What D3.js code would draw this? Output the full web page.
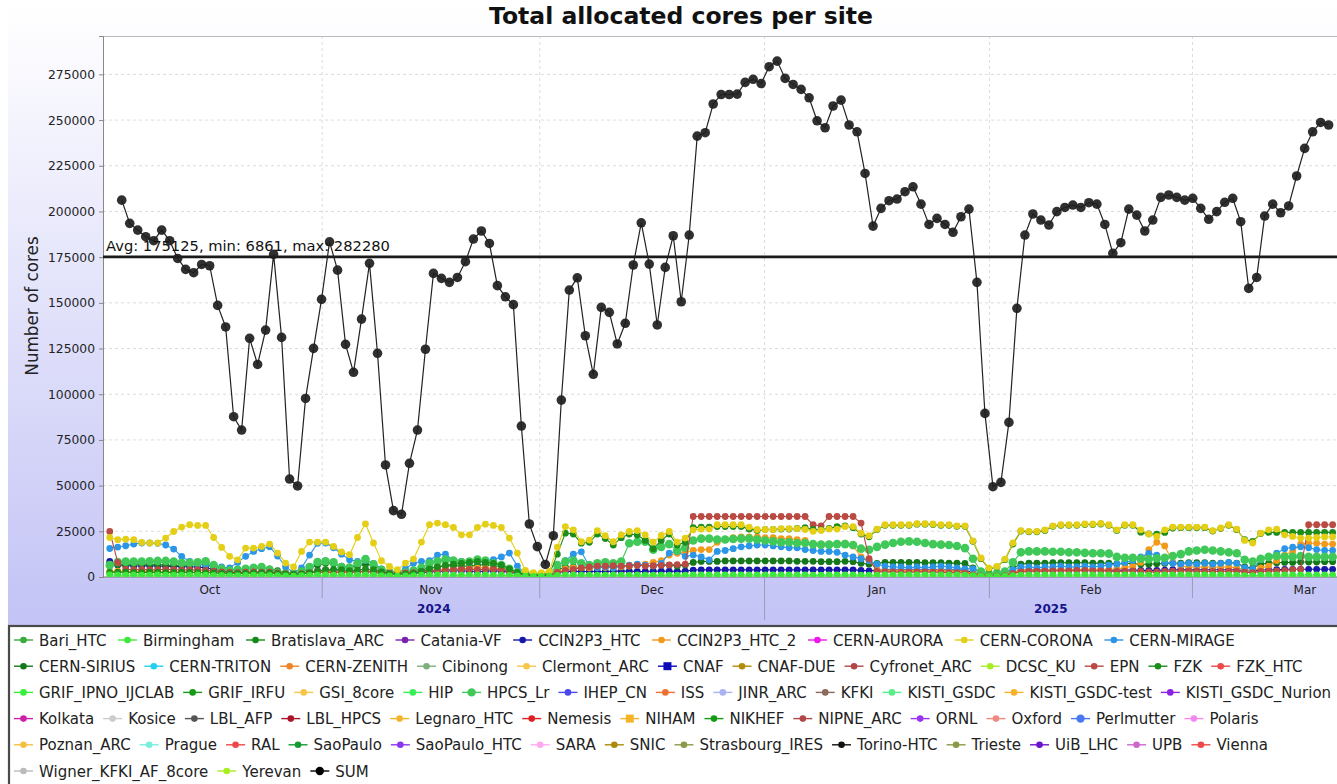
<!DOCTYPE html>
<html>
<head>
<meta charset="utf-8">
<script src="https://cdn.jsdelivr.net/npm/d3@7"></script>
<style>
  html, body { margin: 0; padding: 0; background: #fff; }
  svg { display: block; font-family: "DejaVu Sans", "Liberation Sans", sans-serif; }
</style>
</head>
<body>
<svg id="chart" width="1337" height="784"></svg>
<script>
// all values are in thousands of cores

// SUM, one sample every ~26.5h starting 4 Oct 2024
const sumK = [
  206.2, 193.5, 189.8, 186.2, 184.0, 189.8, 184.0, 174.3, 168.3, 166.5,
  171.0, 170.3, 148.6, 136.8, 87.7, 80.4, 130.6, 116.3, 135.1, 176.5,
  131.1, 53.6, 49.8, 97.7, 125.1, 151.9, 183.4, 167.9, 127.3, 112.0,
  141.1, 171.6, 122.4, 61.3, 36.3, 34.3, 62.2, 80.4, 124.6, 166.1,
  163.4, 161.2, 163.9, 172.5, 184.9, 189.3, 182.5, 159.4, 153.3, 149.0,
  82.6, 29.0, 16.6, 6.861, 22.6, 96.8, 157.0, 163.7, 132.0, 110.9,
  147.5, 144.8, 127.5, 138.8, 170.7, 193.8, 171.2, 137.9, 169.4, 186.7,
  150.6, 187.1, 241.2, 243.1, 258.8, 264.0, 264.0, 264.2, 270.6, 272.3,
  270.0, 279.2, 282.28, 272.8, 269.5, 266.8, 262.2, 249.6, 245.8, 257.7,
  260.9, 247.3, 243.6, 220.8, 192.0, 201.7, 205.9, 206.8, 210.8, 213.5,
  204.0, 192.9, 196.2, 192.9, 188.6, 197.1, 201.3, 161.2, 89.5, 49.4,
  51.8, 84.6, 147.0, 187.1, 198.6, 195.3, 192.6, 199.9, 202.2, 203.5,
  202.2, 204.8, 204.0, 192.9, 177.1, 182.9, 201.3, 198.0, 189.3, 195.3,
  207.7, 209.0, 207.7, 206.2, 207.2, 201.7, 195.7, 199.9, 205.0, 207.2,
  194.4, 157.9, 163.9, 197.5, 204.0, 199.3, 203.0, 219.4, 234.5, 243.6,
  248.7, 247.3
];

// per site series (start 1.5 samples before SUM)
const ccin2p3HtcK = [
  8.6, 6.5, 6.2, 6.0, 6.0, 6.2, 6.0, 5.8, 5.8, 5.6,
  5.6, 5.5, 5.0, 4.2, 3.5, 2.8, 2.5, 2.5, 2.6, 2.6,
  2.4, 2.0, 1.6, 1.4, 1.8, 2.6, 3.5, 3.8, 3.6, 3.0,
  2.6, 2.8, 3.0, 2.6, 2.0, 1.6, 1.4, 1.6, 2.0, 2.4,
  2.8, 3.0, 3.2, 3.4, 3.4, 3.2, 3.0, 3.2, 3.4, 3.2,
  2.6, 1.8, 1.0, 0.8, 0.8, 1.0, 2.4, 3.0, 3.2, 3.0,
  3.0, 3.0, 3.0, 3.2, 3.2, 3.2, 3.0, 3.0, 3.2, 3.2,
  3.2, 3.0, 3.2, 3.8, 3.9, 3.9, 3.9, 3.9, 3.9, 3.9,
  3.9, 3.9, 3.9, 3.9, 3.9, 3.9, 3.9, 3.9, 3.9, 3.9,
  3.9, 3.9, 3.9, 3.9, 3.6, 3.4, 3.6, 3.8, 3.8, 3.8,
  3.8, 3.8, 3.8, 3.8, 3.8, 3.8, 3.8, 3.6, 2.5, 1.0,
  0.5, 0.6, 1.0, 2.5, 3.6, 3.8, 3.8, 3.8, 3.8, 3.8,
  3.8, 3.8, 3.8, 3.8, 3.8, 3.8, 3.6, 3.8, 3.8, 3.6,
  3.6, 3.6, 3.8, 4.0, 4.0, 4.0, 4.0, 4.0, 4.0, 4.0,
  4.0, 4.0, 3.5, 3.2, 3.8, 4.0, 4.0, 4.2, 4.2, 4.2,
  4.2, 4.2, 4.2, 4.2
];
const ccin2p3Htc2K = [
  3.0, 3.2, 3.0, 3.0, 3.1, 3.2, 3.0, 3.0, 2.8, 2.8,
  2.8, 2.6, 2.6, 2.4, 2.2, 2.0, 2.0, 2.2, 2.4, 2.4,
  2.2, 1.8, 1.4, 1.2, 1.6, 2.4, 3.0, 3.2, 3.0, 2.8,
  2.8, 3.0, 3.2, 3.0, 2.4, 1.8, 1.6, 2.0, 2.6, 3.2,
  3.6, 3.8, 4.0, 4.2, 4.5, 4.8, 5.0, 5.0, 4.8, 4.5,
  3.5, 2.0, 1.0, 0.8, 0.8, 1.0, 3.0, 4.5, 5.0, 5.0,
  5.0, 5.2, 5.2, 5.0, 5.5, 6.0, 6.5, 7.0, 8.0, 9.0,
  12.0, 13.0, 13.5, 14.5, 15.0, 15.0, 19.0, 20.5, 21.5, 22.0,
  22.0, 22.0, 21.5, 21.5, 21.0, 21.0, 20.5, 20.0, 18.0, 17.5,
  18.0, 18.0, 18.5, 17.0, 11.0, 9.0, 4.0, 3.5, 3.5, 3.5,
  3.5, 3.5, 3.5, 3.5, 3.5, 3.2, 3.2, 3.0, 2.0, 1.0,
  0.6, 0.6, 1.0, 2.5, 3.5, 3.8, 3.8, 3.8, 4.0, 4.0,
  4.0, 4.0, 4.2, 4.2, 4.0, 4.0, 4.5, 5.0, 6.0, 8.0,
  15.0, 19.0, 17.0, 8.0, 6.0, 5.5, 5.5, 5.5, 5.5, 5.5,
  5.5, 5.0, 4.0, 3.5, 5.0, 6.0, 9.0, 12.0, 14.0, 18.0,
  18.5, 18.5, 18.0, 18.0
];
const cernCoronaK = [
  21.6, 20.4, 20.7, 20.4, 18.9, 18.6, 18.6, 21.3, 24.9, 27.3,
  28.6, 28.2, 28.2, 21.6, 16.2, 11.3, 9.4, 15.8, 15.8, 16.7,
  18.0, 13.1, 7.6, 5.5, 14.0, 19.1, 19.1, 19.1, 16.7, 13.7,
  12.2, 21.6, 29.1, 18.6, 8.9, 5.8, 4.0, 7.6, 9.8, 19.1,
  28.6, 29.5, 28.6, 27.1, 23.1, 23.1, 27.1, 28.9, 28.2, 27.1,
  21.3, 13.1, 3.6, 2.4, 2.4, 3.0, 16.4, 27.6, 25.8, 19.3,
  20.2, 25.4, 22.6, 19.3, 23.1, 24.9, 25.4, 23.1, 19.1, 22.7,
  24.9, 19.1, 21.3, 25.8, 26.2, 26.2, 28.6, 28.6, 28.6, 28.6,
  27.3, 26.0, 26.0, 26.0, 26.5, 26.5, 26.5, 26.0, 25.0, 25.5,
  26.2, 26.2, 27.6, 27.6, 24.0, 22.6, 26.2, 28.6, 28.6, 28.6,
  28.6, 29.2, 29.2, 29.0, 28.6, 28.6, 28.0, 28.0, 19.8, 10.4,
  4.9, 5.8, 9.8, 18.6, 25.4, 25.0, 25.0, 25.8, 28.0, 28.6,
  28.6, 28.6, 29.0, 29.0, 29.3, 28.6, 25.8, 28.6, 28.6, 25.8,
  23.5, 22.2, 25.8, 27.3, 27.3, 27.3, 27.3, 27.3, 25.4, 26.8,
  28.6, 26.2, 20.0, 18.6, 24.0, 25.8, 26.2, 23.1, 22.2, 21.3,
  21.3, 21.6, 21.9, 21.9
];
const cernMirageK = [
  15.6, 16.4, 17.1, 18.0, 18.6, 18.6, 18.4, 17.5, 15.3, 11.3,
  8.5, 7.0, 6.8, 6.5, 5.5, 5.0, 8.0, 11.3, 14.0, 15.5,
  16.5, 11.5, 5.5, 2.5, 5.0, 12.0, 18.4, 18.6, 16.0, 12.5,
  9.5, 8.5, 9.0, 7.5, 4.5, 3.0, 2.5, 4.5, 7.5, 8.5,
  9.0, 12.0, 12.5, 9.0, 8.5, 8.0, 8.5, 9.0, 9.5, 11.0,
  13.1, 6.0, 2.0, 1.5, 1.5, 2.0, 6.0, 8.9, 12.5, 13.8,
  6.0, 5.0, 5.5, 5.0, 6.0, 6.5, 7.0, 6.5, 6.0, 7.5,
  13.1, 14.0, 11.3, 12.0, 11.0, 9.4, 14.0, 14.5, 15.5, 16.5,
  17.0, 17.5, 17.5, 17.0, 16.5, 16.0, 16.0, 15.0, 14.5, 14.0,
  14.0, 13.5, 12.0, 11.0, 10.0, 9.0, 7.0, 6.0, 5.5, 5.5,
  5.0, 5.5, 5.0, 5.5, 6.0, 5.5, 5.0, 4.5, 4.5, 3.0,
  2.0, 2.0, 3.0, 4.0, 5.5, 5.5, 5.0, 5.5, 5.5, 6.0,
  5.5, 5.5, 6.0, 5.5, 6.0, 6.5, 7.0, 8.0, 9.0, 11.0,
  12.9, 12.0, 8.0, 7.5, 7.0, 7.5, 7.0, 7.5, 7.0, 7.5,
  8.0, 7.5, 5.0, 4.5, 9.5, 11.0, 13.0, 15.5, 16.3, 16.5,
  16.0, 15.0, 14.5, 14.5
];
const cernSiriusK = [
  7.0, 6.8, 6.8, 7.0, 7.2, 7.0, 6.8, 6.6, 6.4, 6.5,
  6.6, 6.8, 6.5, 5.5, 4.5, 4.0, 4.2, 4.5, 4.8, 5.0,
  4.5, 3.5, 2.5, 2.2, 3.0, 4.5, 6.5, 7.5, 7.2, 6.0,
  5.5, 6.0, 7.0, 6.0, 4.0, 2.5, 2.2, 2.5, 3.0, 4.0,
  5.0, 5.5, 6.0, 6.2, 6.0, 5.8, 6.5, 6.8, 6.0, 5.5,
  4.0, 2.5, 1.5, 1.2, 1.2, 1.5, 4.0, 5.5, 5.5, 5.0,
  5.0, 5.5, 5.5, 5.5, 6.0, 6.0, 6.5, 6.5, 6.0, 6.5,
  6.5, 6.0, 6.5, 8.0, 8.5, 8.5, 8.5, 8.8, 8.8, 8.8,
  8.8, 8.8, 8.8, 8.8, 8.8, 8.8, 8.6, 8.6, 8.6, 8.4,
  8.4, 8.4, 8.6, 8.4, 7.5, 7.0, 7.5, 8.0, 8.0, 8.0,
  8.0, 8.0, 7.8, 7.8, 7.8, 7.6, 7.6, 7.4, 5.0, 2.0,
  1.0, 1.2, 2.0, 5.0, 7.0, 7.6, 7.6, 7.6, 7.8, 7.8,
  7.8, 7.8, 7.8, 7.6, 7.6, 7.6, 7.2, 7.4, 7.4, 7.0,
  7.0, 7.2, 7.4, 7.6, 7.6, 7.8, 7.8, 7.8, 7.6, 7.6,
  7.8, 7.6, 5.5, 5.0, 7.0, 7.6, 7.8, 8.0, 8.0, 8.2,
  8.2, 8.2, 8.4, 8.4
];
const epnK = [
  24.9, 8.0, 4.2, 4.0, 4.1, 3.9, 4.0, 4.2, 4.0, 3.8,
  3.9, 4.0, 3.6, 3.2, 2.8, 2.5, 2.4, 2.6, 2.8, 2.7,
  2.6, 2.2, 1.8, 1.6, 1.8, 2.4, 2.6, 2.5, 2.4, 2.6,
  2.8, 3.0, 3.2, 3.0, 2.6, 2.2, 2.0, 2.2, 2.4, 3.0,
  3.6, 3.8, 4.0, 4.2, 4.4, 4.2, 4.0, 4.2, 4.4, 4.0,
  3.2, 2.0, 1.0, 0.8, 0.8, 1.0, 2.5, 3.6, 4.2, 5.0,
  5.5, 6.0, 6.0, 6.2, 6.0, 6.2, 6.4, 6.0, 6.2, 6.4,
  6.6, 6.8, 7.0, 33.1, 33.1, 33.1, 33.1, 33.1, 33.1, 33.1,
  33.1, 33.1, 33.1, 33.1, 33.1, 33.1, 33.1, 33.1, 28.6, 28.0,
  33.1, 33.1, 33.1, 33.1, 29.5, 10.0, 3.0, 2.8, 2.8, 2.6,
  2.6, 2.8, 2.8, 2.6, 2.6, 2.4, 2.4, 2.2, 1.2, 0.6,
  0.4, 0.4, 0.8, 2.0, 2.8, 3.0, 3.2, 3.2, 3.4, 3.4,
  3.4, 3.6, 3.6, 3.4, 3.4, 3.2, 3.0, 3.2, 3.4, 3.0,
  2.8, 2.8, 3.0, 3.2, 3.4, 3.4, 3.2, 3.2, 3.0, 3.0,
  3.2, 3.2, 2.6, 2.4, 3.0, 3.2, 3.4, 3.6, 4.0, 4.2,
  28.6, 28.6, 28.6, 28.6
];
const fzkK = [
  2.5, 2.6, 2.6, 2.5, 2.4, 2.6, 2.5, 2.4, 2.5, 2.6,
  2.5, 2.4, 2.3, 2.2, 2.0, 1.8, 1.9, 2.0, 2.1, 2.2,
  2.1, 1.8, 1.5, 1.4, 1.6, 2.2, 3.0, 4.0, 4.2, 4.0,
  3.5, 3.8, 4.4, 4.0, 2.8, 1.8, 1.5, 1.6, 2.0, 3.0,
  4.5, 5.5, 6.5, 7.0, 7.5, 8.0, 8.5, 8.0, 7.5, 6.5,
  4.5, 2.5, 1.2, 1.0, 1.0, 1.2, 12.5, 24.0, 23.5, 18.5,
  19.0, 23.5, 21.0, 17.5, 21.5, 23.5, 23.0, 20.0, 15.5, 20.0,
  23.5, 17.5, 19.0, 27.0, 27.3, 27.3, 27.6, 27.6, 27.6, 27.6,
  26.2, 25.5, 26.0, 26.0, 26.2, 26.2, 26.6, 27.0, 26.0, 25.8,
  26.6, 27.6, 28.0, 27.0, 23.5, 22.0, 26.0, 28.3, 28.3, 28.3,
  28.3, 28.9, 28.9, 28.7, 28.3, 28.3, 27.7, 27.7, 19.5, 10.0,
  4.5, 5.5, 9.5, 18.0, 25.1, 24.7, 24.7, 25.5, 27.7, 28.3,
  28.3, 28.3, 28.7, 28.7, 29.0, 28.3, 25.5, 28.3, 28.3, 24.5,
  23.6, 23.5, 24.4, 26.8, 27.0, 27.0, 27.0, 27.0, 25.1, 26.5,
  28.3, 25.9, 20.5, 19.5, 23.8, 24.4, 24.4, 24.4, 24.4, 24.4,
  24.4, 24.4, 24.4, 24.4
];
const hpcsLrK = [
  6.5, 8.2, 8.4, 8.4, 8.5, 8.6, 8.8, 8.8, 8.4, 7.8,
  7.8, 8.0, 8.6, 6.5, 4.5, 3.5, 4.0, 4.5, 5.0, 5.5,
  4.0, 2.5, 1.8, 1.5, 3.0, 5.5, 8.2, 8.6, 8.0, 5.5,
  5.0, 7.5, 9.8, 7.0, 4.0, 2.5, 2.0, 2.5, 3.5, 5.0,
  7.5, 8.6, 9.5, 9.0, 8.0, 8.5, 9.5, 9.0, 7.5, 6.5,
  4.5, 2.5, 1.5, 1.2, 1.2, 1.5, 6.5, 8.5, 9.0, 7.5,
  6.5, 7.5, 8.0, 7.5, 8.5, 18.5, 19.3, 19.3, 15.0, 16.5,
  18.0, 14.5, 16.0, 20.0, 21.0, 21.0, 20.5, 20.5, 20.8, 21.0,
  21.0, 20.5, 20.0, 19.5, 19.0, 19.0, 18.6, 18.6, 18.0, 17.7,
  17.7, 18.0, 18.0, 17.5, 15.5, 14.9, 16.5, 17.7, 18.6, 19.3,
  19.5, 19.3, 18.6, 18.0, 17.7, 17.5, 17.0, 15.8, 10.0, 3.0,
  1.5, 2.0, 3.0, 8.0, 13.5, 14.0, 14.0, 14.0, 13.8, 13.8,
  13.5, 13.5, 13.2, 13.0, 13.0, 12.8, 11.0, 10.5, 10.5, 10.0,
  9.8, 10.2, 10.5, 11.5, 12.5, 14.0, 14.5, 14.9, 14.5, 14.0,
  13.5, 13.0, 9.4, 8.5, 10.0, 11.0, 11.5, 11.0, 11.0, 11.5,
  11.0, 11.0, 11.0, 11.0
];
const birminghamK = [
  1.2, 1.0, 1.0, 1.1, 1.0, 1.0, 1.1, 1.0, 1.0, 1.0,
  1.0, 1.1, 1.0, 0.9, 0.9, 0.8, 0.8, 0.9, 1.0, 1.0,
  0.9, 0.8, 0.6, 0.5, 0.7, 0.9, 1.0, 1.1, 1.0, 1.0,
  1.0, 1.0, 1.1, 1.0, 0.8, 0.6, 0.5, 0.6, 0.8, 1.0,
  1.0, 1.1, 1.1, 1.0, 1.0, 1.0, 1.1, 1.1, 1.0, 1.0,
  0.9, 0.6, 0.4, 0.3, 0.3, 0.4, 0.9, 1.0, 1.1, 1.0,
  1.0, 1.0, 1.0, 1.1, 1.0, 1.0, 1.1, 1.0, 1.0, 1.0,
  1.0, 1.0, 1.0, 1.1, 1.1, 1.1, 1.1, 1.1, 1.1, 1.1,
  1.1, 1.1, 1.1, 1.1, 1.1, 1.1, 1.1, 1.1, 1.0, 1.0,
  1.1, 1.1, 1.1, 1.1, 1.0, 1.0, 1.0, 1.1, 1.1, 1.1,
  1.1, 1.1, 1.1, 1.1, 1.1, 1.1, 1.1, 1.0, 0.8, 0.5,
  0.3, 0.3, 0.5, 0.8, 1.0, 1.1, 1.1, 1.1, 1.1, 1.1,
  1.1, 1.1, 1.1, 1.1, 1.1, 1.1, 1.0, 1.1, 1.1, 1.0,
  1.0, 1.0, 1.1, 1.1, 1.1, 1.1, 1.1, 1.1, 1.1, 1.1,
  1.1, 1.0, 0.8, 0.8, 1.0, 1.1, 1.1, 1.1, 1.1, 1.1,
  1.1, 1.1, 1.1, 1.1
];

const avgCores = 175125, minCores = 6861, maxCores = 282280;
const yTicks = [0, 25000, 50000, 75000, 100000, 125000, 150000, 175000, 200000, 225000, 250000, 275000];

// legend, row by row as in the picture
const legendRows = [
  ['Bari_HTC', 'Birmingham', 'Bratislava_ARC', 'Catania-VF', 'CCIN2P3_HTC', 'CCIN2P3_HTC_2', 'CERN-AURORA', 'CERN-CORONA', 'CERN-MIRAGE'],
  ['CERN-SIRIUS', 'CERN-TRITON', 'CERN-ZENITH', 'Cibinong', 'Clermont_ARC', 'CNAF', 'CNAF-DUE', 'Cyfronet_ARC', 'DCSC_KU', 'EPN', 'FZK', 'FZK_HTC'],
  ['GRIF_IPNO_IJCLAB', 'GRIF_IRFU', 'GSI_8core', 'HIP', 'HPCS_Lr', 'IHEP_CN', 'ISS', 'JINR_ARC', 'KFKI', 'KISTI_GSDC', 'KISTI_GSDC-test', 'KISTI_GSDC_Nurion'],
  ['Kolkata', 'Kosice', 'LBL_AFP', 'LBL_HPCS', 'Legnaro_HTC', 'Nemesis', 'NIHAM', 'NIKHEF', 'NIPNE_ARC', 'ORNL', 'Oxford', 'Perlmutter', 'Polaris'],
  ['Poznan_ARC', 'Prague', 'RAL', 'SaoPaulo', 'SaoPaulo_HTC', 'SARA', 'SNIC', 'Strasbourg_IRES', 'Torino-HTC', 'Trieste', 'UiB_LHC', 'UPB', 'Vienna'],
  ['Wigner_KFKI_AF_8core', 'Yerevan', 'SUM']
];
const legendGap = [11.6, 9, 9, 9, 9, 9];
const siteColors = {
  'Bari_HTC': '#3aaa3a', 'Birmingham': '#3ee83a', 'Bratislava_ARC': '#138a13', 'Catania-VF': '#7a22b0',
  'CCIN2P3_HTC': '#1616a8', 'CCIN2P3_HTC_2': '#f29a1c', 'CERN-AURORA': '#ee18e8', 'CERN-CORONA': '#e4cf16',
  'CERN-MIRAGE': '#2b96e8', 'CERN-SIRIUS': '#14781a', 'CERN-TRITON': '#22d0ee', 'CERN-ZENITH': '#f08426',
  'Cibinong': '#7caf7c', 'Clermont_ARC': '#f5c648', 'CNAF': '#0a0abb', 'CNAF-DUE': '#b48a0a',
  'Cyfronet_ARC': '#b04848', 'DCSC_KU': '#a8ec26', 'EPN': '#b94a44', 'FZK': '#1c8c1c', 'FZK_HTC': '#ee4848',
  'GRIF_IPNO_IJCLAB': '#38ee38', 'GRIF_IRFU': '#149a14', 'GSI_8core': '#f5c648', 'HIP': '#38ee58',
  'HPCS_Lr': '#40c858', 'IHEP_CN': '#4848ee', 'ISS': '#f07030', 'JINR_ARC': '#aab2f2', 'KFKI': '#8a6a5a',
  'KISTI_GSDC': '#58ee88', 'KISTI_GSDC-test': '#f5b428', 'KISTI_GSDC_Nurion': '#8a22e0',
  'Kolkata': '#cc22aa', 'Kosice': '#cccccc', 'LBL_AFP': '#555555', 'LBL_HPCS': '#aa1428',
  'Legnaro_HTC': '#f5b428', 'Nemesis': '#dd2020', 'NIHAM': '#f5b428', 'NIKHEF': '#149a14',
  'NIPNE_ARC': '#b04848', 'ORNL': '#9a34ee', 'Oxford': '#f08a80', 'Perlmutter': '#4a78ee', 'Polaris': '#f48af0',
  'Poznan_ARC': '#f5c040', 'Prague': '#7aeedc', 'RAL': '#ee4848', 'SaoPaulo': '#149a34',
  'SaoPaulo_HTC': '#8a36ee', 'SARA': '#ffaaf0', 'SNIC': '#aa8a0a', 'Strasbourg_IRES': '#8a9a48',
  'Torino-HTC': '#111111', 'Trieste': '#8a9a48', 'UiB_LHC': '#6a14cc', 'UPB': '#cc66cc', 'Vienna': '#ee4848',
  'Wigner_KFKI_AF_8core': '#bbbbbb', 'Yerevan': '#aaee22', 'SUM': '#000000'
};
const squareMarkers = ['CNAF', 'NIHAM'];
const bigMarkers = ['HPCS_Lr', 'Perlmutter', 'SUM'];

// series drawn in the plot (draw order)
const plotted = [
  ['CCIN2P3_HTC', ccin2p3HtcK], ['CERN-SIRIUS', cernSiriusK], ['CCIN2P3_HTC_2', ccin2p3Htc2K],
  ['CERN-MIRAGE', cernMirageK], ['HPCS_Lr', hpcsLrK], ['EPN', epnK], ['FZK', fzkK],
  ['CERN-CORONA', cernCoronaK], ['Birmingham', birminghamK]
];

const HOUR = 3600 * 1000;
const STEP = 26.45 * HOUR;
const sumStart = Date.UTC(2024, 9, 4, 8, 40);
const siteStart = sumStart - 1.5 * STEP;

const W = 1337, H = 784;
const plot = { left: 103, top: 36, right: 1337, bottom: 577 };
const FONT = '"DejaVu Sans", sans-serif';

const svg = d3.select('#chart');
const defs = svg.append('defs');
const grad = defs.append('linearGradient').attr('id', 'bg')
  .attr('x1', 0).attr('y1', 0).attr('x2', 0).attr('y2', 1);
grad.append('stop').attr('offset', '0%').attr('stop-color', '#ffffff');
grad.append('stop').attr('offset', '100%').attr('stop-color', '#c3c3f6');
defs.append('clipPath').attr('id', 'plotClip').append('rect')
  .attr('x', plot.left).attr('y', plot.top - 6)
  .attr('width', plot.right - plot.left).attr('height', plot.bottom - plot.top + 6);

svg.append('rect').attr('x', 8).attr('y', 6).attr('width', W - 8).attr('height', 619)
  .attr('fill', 'url(#bg)');

const x = d3.scaleUtc()
  .domain([Date.UTC(2024, 9, 1, 18, 40), Date.UTC(2025, 2, 20, 22, 20)])
  .range([plot.left, plot.right]);
const y = d3.scaleLinear().domain([0, 296000]).range([plot.bottom, plot.top]);

// plot background
svg.append('rect').attr('x', plot.left).attr('y', plot.top)
  .attr('width', plot.right - plot.left).attr('height', plot.bottom - plot.top)
  .attr('fill', '#fff');

// grid
const grid = svg.append('g');
grid.selectAll('line.h').data(yTicks.slice(1)).join('line')
  .attr('x1', plot.left).attr('x2', plot.right)
  .attr('y1', d => y(d)).attr('y2', d => y(d))
  .attr('stroke', '#dcdcdc').attr('stroke-dasharray', '3,3');
const months = d3.utcMonth.range(Date.UTC(2024, 9, 1), Date.UTC(2025, 3, 1));
const innerMonths = months.filter(m => x(m) > plot.left && x(m) < plot.right);
grid.selectAll('line.v').data(innerMonths).join('line')
  .attr('x1', d => x(d)).attr('x2', d => x(d))
  .attr('y1', plot.top).attr('y2', plot.bottom)
  .attr('stroke', '#dcdcdc').attr('stroke-dasharray', '3,3');

// frame
svg.append('line').attr('x1', plot.left).attr('x2', plot.right).attr('y1', plot.top + 0.5).attr('y2', plot.top + 0.5)
  .attr('stroke', '#bbb');

// y axis
const yAxis = svg.append('g').attr('transform', `translate(${plot.left},0)`)
  .call(d3.axisLeft(y).tickValues(yTicks).tickSize(4).tickPadding(4).tickFormat(d3.format('d')));
yAxis.attr('font-family', null).attr('font-size', null);
yAxis.select('.domain').attr('stroke', '#888');
yAxis.selectAll('.tick line').attr('stroke', '#888');
yAxis.selectAll('.tick text').style('font-size', '12.3px').style('font-family', FONT).attr('fill', '#222');

svg.append('text').attr('transform', 'translate(38,306) rotate(-90)')
  .attr('text-anchor', 'middle').style('font-size', '16.8px').attr('fill', '#222')
  .text('Number of cores');

// x axis band
svg.append('line').attr('x1', plot.left).attr('x2', plot.right)
  .attr('y1', plot.bottom).attr('y2', plot.bottom).attr('stroke', '#777');
const xBand = svg.append('g');
xBand.selectAll('line').data(innerMonths).join('line')
  .attr('x1', d => x(d)).attr('x2', d => x(d))
  .attr('y1', plot.bottom)
  .attr('y2', d => d.getUTCMonth() === 0 ? 620 : 598)
  .attr('stroke', '#9a9ab8');
xBand.selectAll('text').data(months).join('text')
  .attr('x', d => x(new Date((+d + +d3.utcMonth.offset(d, 1)) / 2)))
  .attr('y', 594).attr('text-anchor', 'middle').style('font-size', '12px').attr('fill', '#222')
  .text(d => d3.utcFormat('%b')(d));
const jan1 = Date.UTC(2025, 0, 1);
const years = [['2024', plot.left, x(jan1)], ['2025', x(jan1), plot.right]];
svg.selectAll('text.year').data(years).join('text').attr('class', 'year')
  .attr('x', d => (d[1] + d[2]) / 2).attr('y', 613)
  .attr('text-anchor', 'middle').style('font-size', '12px').attr('font-weight', 'bold')
  .attr('fill', '#14148c').text(d => d[0]);

// title
svg.append('text').attr('x', 681).attr('y', 24).attr('text-anchor', 'middle')
  .style('font-size', '23.5px').attr('font-weight', 'bold').attr('fill', '#111')
  .text('Total allocated cores per site');

// series
const plotG = svg.append('g').attr('clip-path', 'url(#plotClip)');
const line = d3.line().x(d => x(d.t)).y(d => y(d.v));

plotted.forEach(([name, vals]) => {
  const pts = vals.map((v, i) => ({ t: new Date(siteStart + i * STEP), v: v * 1000 }));
  const col = siteColors[name];
  const g = plotG.append('g');
  g.append('path').datum(pts).attr('d', line).attr('fill', 'none')
    .attr('stroke', col).attr('stroke-width', 1.1);
  g.selectAll('circle').data(pts).join('circle')
    .attr('cx', d => x(d.t)).attr('cy', d => y(d.v))
    .attr('r', bigMarkers.includes(name) ? 4.3 : 3.4).attr('fill', col);
});

// average line + label
plotG.append('line').attr('x1', plot.left).attr('x2', plot.right)
  .attr('y1', y(avgCores)).attr('y2', y(avgCores))
  .attr('stroke', '#1a1a1a').attr('stroke-width', 2.6);
svg.append('text').attr('x', plot.left + 3).attr('y', y(avgCores) - 6)
  .style('font-size', '14.7px').attr('fill', '#111')
  .text(`Avg: ${avgCores}, min: ${minCores}, max: ${maxCores}`);

// SUM
const sumPts = sumK.map((v, i) => ({ t: new Date(sumStart + i * STEP), v: v * 1000 }));
plotG.append('path').datum(sumPts).attr('d', line).attr('fill', 'none')
  .attr('stroke', '#222').attr('stroke-width', 1.2);
plotG.append('g').selectAll('circle').data(sumPts).join('circle')
  .attr('cx', d => x(d.t)).attr('cy', d => y(d.v)).attr('r', 4.8)
  .attr('fill', '#1e1e1e').attr('fill-opacity', 0.92);

// legend
svg.append('rect').attr('x', 9).attr('y', 626).attr('width', W + 10).attr('height', 170)
  .attr('fill', '#fff').attr('stroke', '#4a4a4a').attr('stroke-width', 2.2);
const legend = svg.append('g');
legendRows.forEach((row, ri) => {
  const cy = 640 + ri * 26.2;
  let mx = 14;
  row.forEach(name => {
    const col = siteColors[name];
    const item = legend.append('g');
    item.append('line').attr('x1', mx).attr('x2', mx + 19).attr('y1', cy).attr('y2', cy)
      .attr('stroke', col).attr('stroke-width', 1.4);
    if (squareMarkers.includes(name)) {
      item.append('rect').attr('x', mx + 5.5).attr('y', cy - 4).attr('width', 8).attr('height', 8).attr('fill', col);
    } else {
      item.append('circle').attr('cx', mx + 9.5).attr('cy', cy)
        .attr('r', bigMarkers.includes(name) ? 4.2 : 3.3).attr('fill', col);
    }
    const t = item.append('text').attr('x', mx + 25).attr('y', cy + 5.5)
      .style('font-size', '15px').attr('fill', '#222').text(name);
    mx += 25 + t.node().getComputedTextLength() + legendGap[ri];
  });
});
</script>
</body>
</html>
